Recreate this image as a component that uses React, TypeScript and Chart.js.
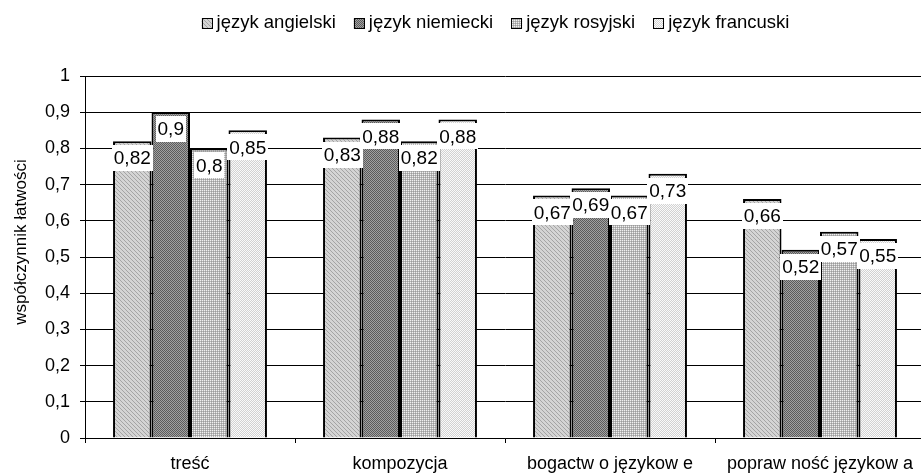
import React, { useEffect, useRef } from "react";
import { Chart, registerables } from "chart.js";

Chart.register(...registerables);

const categories = ["treść", "kompozycja", "bogactw o językow e", "popraw ność językow a"];
const seriesNames = ["język angielski", "język niemiecki", "język rosyjski", "język francuski"];
const angielski = [0.82, 0.83, 0.67, 0.66];
const niemiecki = [0.9, 0.88, 0.69, 0.52];
const rosyjski = [0.8, 0.82, 0.67, 0.57];
const francuski = [0.85, 0.88, 0.73, 0.55];
const yTickLabels = ["0", "0,1", "0,2", "0,3", "0,4", "0,5", "0,6", "0,7", "0,8", "0,9", "1"];
const yTitle = "współczynnik łatwości";

const FONT = "'Liberation Sans', Arial, sans-serif";

function makePattern(rows: string[], colors: Record<string, string>): CanvasPattern | string {
  const c = document.createElement("canvas");
  c.width = rows[0].length;
  c.height = rows.length;
  const ctx = c.getContext("2d")!;
  rows.forEach((row, y) => {
    row.split("").forEach((ch, x) => {
      ctx.fillStyle = colors[ch];
      ctx.fillRect(x, y, 1, 1);
    });
  });
  const main = document.createElement("canvas").getContext("2d")!;
  return main.createPattern(c, "repeat") || "#ccc";
}

export default function App() {
  const ref = useRef<HTMLCanvasElement>(null);
  useEffect(() => {
    if (!ref.current) return;
    const patterns = [
      makePattern(["dlll", "ldll", "lldl", "llld"], { d: "#a4a4a4", l: "#d4d4d4" }),
      makePattern(["dm", "md"], { d: "#5c5c5c", m: "#a2a2a2" }),
      makePattern(["wg", "gd"], { w: "#f0f0f0", g: "#b8b8b8", d: "#9c9c9c" }),
      makePattern(["wl", "lw"], { w: "#fafafa", l: "#d2d2d2" }),
    ];
    const values = [angielski, niemiecki, rosyjski, francuski];

    const labelPlugin = {
      id: "valueLabels",
      afterDatasetsDraw(chart: any) {
        const ctx = chart.ctx;
        ctx.save();
        ctx.font = `19px ${FONT}`;
        ctx.textAlign = "center";
        ctx.textBaseline = "middle";
        chart.data.datasets.forEach((ds: any, di: number) => {
          const meta = chart.getDatasetMeta(di);
          meta.data.forEach((el: any, i: number) => {
            const txt = String(ds.data[i]).replace(".", ",");
            const w = ctx.measureText(txt).width;
            const top = el.y + 4;
            ctx.fillStyle = "#fff";
            ctx.fillRect(Math.round(el.x - w / 2 - 2), Math.round(top), Math.round(w + 4), 26);
            ctx.fillStyle = "#000";
            ctx.fillText(txt, el.x, top + 14);
          });
        });
        ctx.restore();
      },
    };

    const extrasPlugin = {
      id: "extras",
      afterDraw(chart: any) {
        const ctx = chart.ctx;
        ctx.save();
        ctx.font = `17px ${FONT}`;
        ctx.fillStyle = "#000";
        ctx.translate(21, 242);
        ctx.rotate(-Math.PI / 2);
        ctx.textAlign = "center";
        ctx.textBaseline = "middle";
        ctx.fillText(yTitle, 0, 0);
        ctx.restore();

        ctx.save();
        ctx.font = `18.5px ${FONT}`;
        const box = 11, gapBT = 4, gapItem = 18;
        const widths = seriesNames.map((n) => ctx.measureText(n).width);
        const total = widths.reduce((a, b) => a + b + box + gapBT, 0) + gapItem * (seriesNames.length - 1);
        let x = 495.5 - total / 2;
        seriesNames.forEach((n, i) => {
          ctx.fillStyle = patterns[i] as any;
          ctx.fillRect(x, 18, box, box);
          ctx.strokeStyle = "#000";
          ctx.lineWidth = 1;
          ctx.strokeRect(Math.round(x) + 0.5, 18.5, box - 1, box - 1);
          ctx.fillStyle = "#000";
          ctx.textAlign = "left";
          ctx.textBaseline = "alphabetic";
          ctx.fillText(n, x + box + gapBT, 28);
          x += box + gapBT + widths[i] + gapItem;
        });
        ctx.restore();
      },
    };

    const chart = new Chart(ref.current, {
      type: "bar",
      data: {
        labels: categories,
        datasets: seriesNames.map((name, i) => ({
          label: name,
          data: values[i],
          backgroundColor: patterns[i] as any,
          borderColor: "#000",
          borderWidth: 2,
          categoryPercentage: 0.733,
          barPercentage: 1,
        })),
      },
      options: {
        animation: false,
        responsive: false,
        maintainAspectRatio: false,
        devicePixelRatio: 1,
        layout: { padding: { top: 76, right: 5, left: 0, bottom: 0 } },
        plugins: { legend: { display: false }, tooltip: { enabled: false }, title: { display: false } },
        scales: {
          x: {
            grid: { display: true, drawOnChartArea: false, drawTicks: true, tickLength: 5, color: "#000", lineWidth: 1 },
            border: { display: true, color: "#000", width: 1 },
            ticks: { color: "#000", font: { size: 18, family: FONT }, padding: 10, maxRotation: 0, autoSkip: false },
            afterFit: (s: any) => { s.height = 36; },
          },
          y: {
            min: 0,
            max: 1,
            ticks: {
              stepSize: 0.1,
              color: "#000",
              font: { size: 18, family: FONT },
              padding: 10,
              callback: (_v: any, i: number) => yTickLabels[i],
            },
            grid: { color: "#000", lineWidth: 1, tickLength: 5, drawTicks: true },
            border: { display: true, color: "#000", width: 1 },
            afterFit: (s: any) => { s.width = 85; },
          },
        },
      },
      plugins: [labelPlugin, extrasPlugin],
    });
    return () => chart.destroy();
  }, []);

  return (
    <div style={{ position: "fixed", left: 0, top: 0, width: 921, height: 474, overflow: "hidden", background: "#fff" }}>
      <canvas ref={ref} width={930} height={474} style={{ display: "block" }} />
    </div>
  );
}
